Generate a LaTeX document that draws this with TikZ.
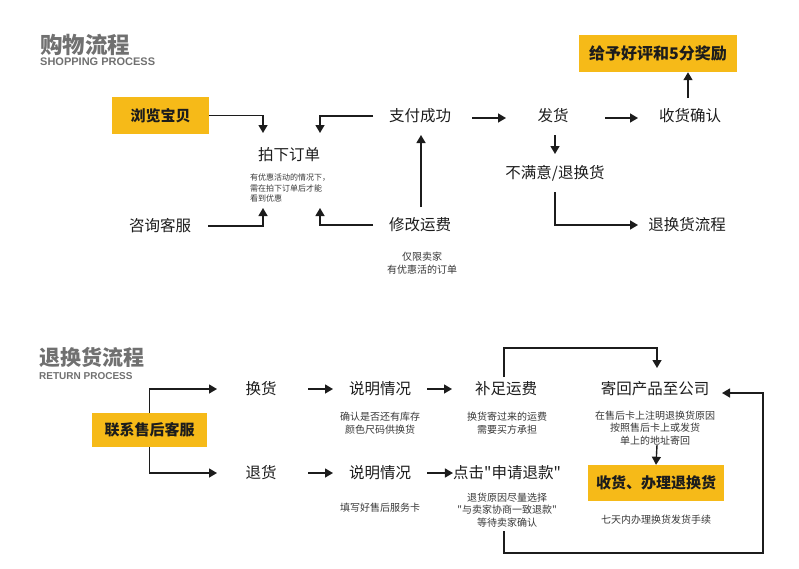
\documentclass[tikz,border=0pt]{standalone}
\usepackage{fontspec}
\setmainfont{Noto Sans CJK SC}[Ligatures=TeXOff]
\newfontfamily\latinfont{Liberation Sans}
\usepackage{tikz}
\usepackage{xcolor}
\usetikzlibrary{arrows.meta, positioning, calc}
\definecolor{cYellow}{RGB}{246,186,24}
\definecolor{cTitle}{RGB}{112,112,112}
\definecolor{cInk}{RGB}{28,28,28}
\definecolor{cNote}{RGB}{55,55,55}
\tikzset{
	lbl/.style      ={inner sep=0pt, text=cInk, font=\fontsize{15.5}{18}\selectfont},
	hilite/.style   ={rectangle, fill=cYellow, inner sep=0pt, text=cInk, font=\fontsize{15}{18}\selectfont\bfseries},
	note/.style     ={inner sep=0pt, align=center, text=cNote, font=\fontsize{10}{12.8}\selectfont},
	tinynote/.style ={inner sep=0pt, align=left, text=cNote, font=\fontsize{8}{10.5}\selectfont},
	% section headings
	ttl/.style      ={inner sep=0pt, anchor=west, text=cTitle},
	subttl/.style   ={inner sep=0pt, anchor=west, text=cTitle, font=\latinfont\bfseries},
	sig/.style      ={-{Triangle[length=8pt, width=9pt]}, line width=1.4pt, draw=cInk},
}

\begin{document}
\begin{tikzpicture}[x=1pt, y=-1pt]
	\useasboundingbox (0,0) rectangle (799,568);
	% shopping process
	\node[ttl, font=\fontsize{22.5}{24}\selectfont\bfseries] (shopTitle) at (40,45) {购物流程};
	\node[subttl, font=\latinfont\bfseries\fontsize{11}{12}\selectfont] (shopSub) at (40,62) {SHOPPING PROCESS};

	\node[hilite, minimum width=97pt, minimum height=37pt] (browse) at (160.5,115.5) {浏览宝贝};
	\node[lbl] (ask) at (160,226) {咨询客服};
	\node[lbl] (order) at (289,155) {拍下订单};
	\node[tinynote, anchor=north west] (orderNote) at (250,174) {有优惠活动的情况下，\\需在拍下订单后才能\\看到优惠};
	\node[lbl] (pay) at (420,116) {支付成功};
	\node[lbl] (fix) at (420,225) {修改运费};
	\node[note] (fixNote) at (422,263) {仅限卖家\\有优惠活的订单};
	\node[lbl] (ship) at (553,116) {发货};
	\node[lbl] (recv) at (690,116) {收货确认};
	\node[hilite, font=\fontsize{16}{18}\selectfont\bfseries, minimum width=158pt, minimum height=37pt] (reward) at (658,53.5) {给予好评和5分奖励};
	\node[lbl] (unhappy) at (555,173) {不满意/退换货};
	\node[lbl] (ret) at (687,225) {退换货流程};

	\draw[sig] (browse.east) -| ($(order)+(-26,-22)$);
	\draw[sig] ($(pay)+(-47,0)$) -| ($(order)+(31,-22)$);
	\draw[sig] ($(ask)+(48,0)$) -| ($(order)+(-26,53)$);
	\draw[sig] ($(fix)+(-47,0)$) -| ($(order)+(31,53)$);
	\draw[sig] ($(fix)+(1,-18)$) -- ($(pay)+(1,19)$);
	\draw[sig] ($(pay)+(52,2)$) -- ($(ship)+(-47,2)$);
	\draw[sig] ($(ship)+(52,2)$) -- ($(recv)+(-52,2)$);
	\draw[sig] ($(recv)+(-2,-18)$) -- ($(reward.south)+(30,0)$);
	\draw[sig] ($(ship)+(2,19)$) -- ($(unhappy)+(0,-19)$);
	\draw[sig] ($(unhappy)+(0,19)$) |- ($(ret)+(-49,0)$);

	% return process
	\node[ttl, font=\fontsize{21}{23}\selectfont\bfseries] (retTitle) at (39,357) {退换货流程};
	\node[subttl, font=\latinfont\bfseries\fontsize{10}{11}\selectfont] (retSub) at (39,376) {RETURN PROCESS};

	\node[hilite, minimum width=115pt, minimum height=34pt] (contact) at (149.5,430) {联系售后客服};
	\node[lbl] (swap) at (261,389) {换货};
	\node[lbl] (refund) at (261,473) {退货};
	\node[lbl] (explainA) at (380,389) {说明情况};
	\node[note] (explainANote) at (380,423) {确认是否还有库存\\颜色尺码供换货};
	\node[lbl] (explainB) at (380,473) {说明情况};
	\node[note] (explainBNote) at (380,508) {填写好售后服务卡};
	\node[lbl] (supply) at (506,389) {补足运费};
	\node[note] (supplyNote) at (507,423) {换货寄过来的运费\\需要买方承担};
	\node[lbl] (apply) at (507,473) {点击"申请退款"};
	\node[note] (applyNote) at (507,510) {退货原因尽量选择\\"与卖家协商一致退款"\\等待卖家确认};
	\node[lbl] (sendback) at (655,389) {寄回产品至公司};
	\node[note] (sendbackNote) at (655,428) {在售后卡上注明退换货原因\\按照售后卡上或发货\\单上的地址寄回};
	\node[hilite, minimum width=136pt, minimum height=36pt] (finish) at (656,483) {收货、办理退换货};
	\node[note] (finishNote) at (656,520) {七天内办理换货发货手续};

	\draw[sig] (contact.north) |- ($(swap)+(-44,0)$);
	\draw[sig] (contact.south) |- ($(refund)+(-44,0)$);
	\draw[sig] ($(swap)+(47,0)$) -- ($(explainA)+(-47,0)$);
	\draw[sig] ($(refund)+(47,0)$) -- ($(explainB)+(-47,0)$);
	\draw[sig] ($(explainA)+(47,0)$) -- ($(supply)+(-54,0)$);
	\draw[sig] ($(explainB)+(47,0)$) -- (apply.west);
	\draw[sig] ($(supply)+(-2,-12)$) -- ++(0,-29) -| ($(sendback)+(2,-21)$);
	\draw[sig] ($(sendback)+(2,56)$) -- (finish.north);
	\draw[sig] ($(apply)+(-3,58)$) -- ++(0,22) -| ($(sendback)+(108,4)$) -- ($(sendback)+(67,4)$);
\end{tikzpicture}
\end{document}
